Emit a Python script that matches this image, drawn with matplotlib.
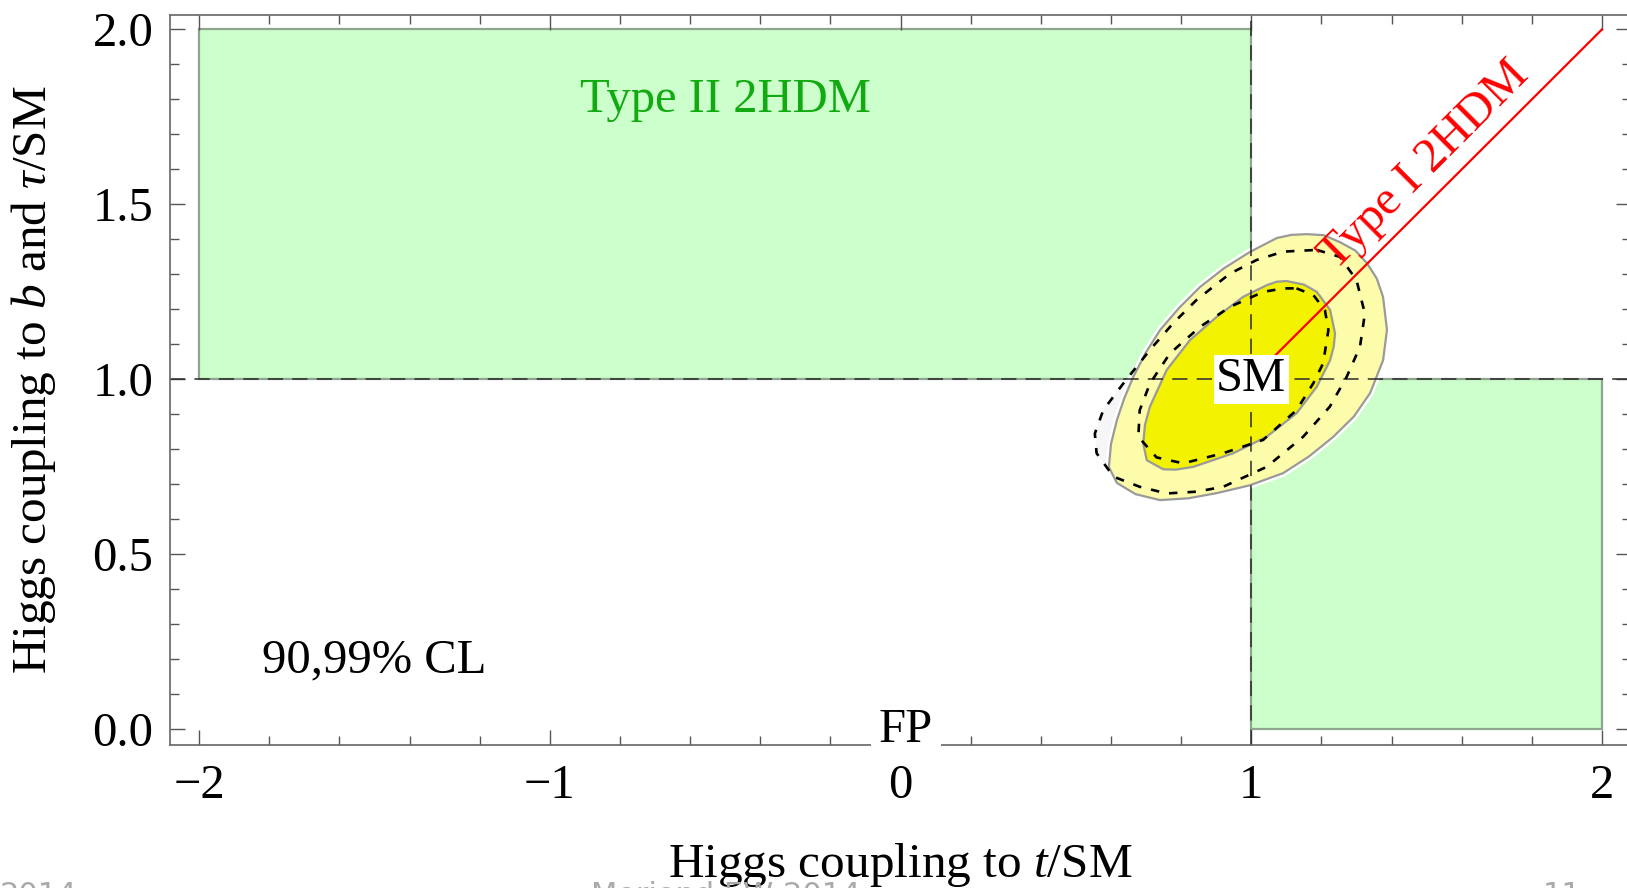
import matplotlib
matplotlib.use("Agg")
import matplotlib.pyplot as plt
from matplotlib.patches import Rectangle
from matplotlib.ticker import MultipleLocator, FormatStrFormatter

# regions allowed by the two 2HDM types
type2_x = [-2, 1]
type2_y = [1, 2]
type2b_x = [1, 2]
type2b_y = [0, 1]
type1_x = [1, 2]
type1_y = [1, 2]

# fit contours (t coupling, b/tau coupling)
c99_x = [1.159, 1.207, 1.253, 1.297, 1.330, 1.358, 1.376, 1.387, 1.376, 1.339,
         1.292, 1.233, 1.165, 1.091, 0.995, 0.902, 0.820, 0.740, 0.670, 0.617,
         0.594, 0.600, 0.617, 0.638, 0.663, 0.699, 0.740, 0.795, 0.854, 0.923,
         0.996, 1.073, 1.115]
c99_y = [1.415, 1.412, 1.392, 1.368, 1.332, 1.288, 1.235, 1.141, 1.055, 0.961,
         0.893, 0.835, 0.780, 0.732, 0.697, 0.675, 0.660, 0.655, 0.672, 0.704,
         0.749, 0.815, 0.884, 0.946, 1.006, 1.076, 1.141, 1.205, 1.264, 1.318,
         1.364, 1.404, 1.413]
c90_x = [1.100, 1.150, 1.187, 1.225, 1.239, 1.235, 1.225, 1.187, 1.129, 1.044,
         0.949, 0.835, 0.785, 0.749, 0.702, 0.692, 0.697, 0.711, 0.759, 0.825,
         0.902, 0.977, 1.044, 1.072]
c90_y = [1.281, 1.271, 1.250, 1.198, 1.131, 1.093, 1.055, 0.979, 0.903, 0.836,
         0.789, 0.750, 0.742, 0.743, 0.769, 0.817, 0.870, 0.922, 1.027, 1.112,
         1.179, 1.236, 1.269, 1.279]
d90_x = [1.129, 1.177, 1.210, 1.220, 1.205, 1.177, 1.129, 1.034, 0.920, 0.806,
         0.730, 0.678, 0.682, 0.711, 0.768, 0.854, 0.939, 1.034, 1.092]
d90_y = [1.260, 1.241, 1.198, 1.141, 1.046, 0.989, 0.912, 0.827, 0.789, 0.760,
         0.777, 0.836, 0.912, 0.988, 1.074, 1.150, 1.207, 1.250, 1.260]
d99_x = [1.187, 1.253, 1.300, 1.324, 1.310, 1.272, 1.224, 1.148, 1.044, 0.920,
         0.844, 0.759, 0.682, 0.607, 0.559, 0.554, 0.578, 0.635, 0.711, 0.777,
         0.844, 0.939, 1.015, 1.091]
d99_y = [1.370, 1.350, 1.284, 1.188, 1.093, 1.007, 0.922, 0.836, 0.750, 0.693,
         0.679, 0.674, 0.693, 0.722, 0.789, 0.845, 0.912, 0.988, 1.084, 1.160,
         1.227, 1.302, 1.341, 1.365]

x_ticks = [-2, -1, 0, 1, 2]
y_ticks = [0.0, 0.5, 1.0, 1.5, 2.0]

plt.rcParams["font.family"] = ["Liberation Serif", "DejaVu Serif"]
plt.rcParams["mathtext.fontset"] = "custom"
plt.rcParams["mathtext.rm"] = "Liberation Serif"
plt.rcParams["mathtext.it"] = "Liberation Serif:italic"

fs = 35
fig = plt.figure(figsize=(16.27, 8.88), dpi=100)
ax = fig.add_axes([0.1045, 0.161, 0.898, 0.822])
ax.set_xlim(-2.083, 2.083)
ax.set_ylim(-0.045, 2.041)

green = "#ccffcc"
green_edge = "#8ea58e"
for xs, ys in [(type2_x, type2_y), (type2b_x, type2b_y)]:
    ax.add_patch(Rectangle((xs[0], ys[0]), xs[1] - xs[0], ys[1] - ys[0],
                           facecolor=green, edgecolor=green_edge, lw=1.6, zorder=1))

# faint shade of the dashed 99% region
ax.fill(d99_x, d99_y, color="#f6f6f8", lw=0, zorder=1.5)

# 99% region: white halo, pale yellow, grey edge
ax.fill(c99_x, c99_y, facecolor="none", edgecolor="white", lw=5, zorder=1.9,
        joinstyle="round")
ax.fill(c99_x, c99_y, facecolor="#fdfcaa", edgecolor="#9a9a9a", lw=1.6, zorder=2,
        joinstyle="round")
ax.fill(c90_x, c90_y, facecolor="#f3f200", edgecolor="#9a9a9a", lw=1.6, zorder=2.1,
        joinstyle="round")

ax.axvline(1, color="#2a2a2a", lw=1.1, ls=(0, (10, 6)), zorder=2.3)
ax.axhline(1, color="#2a2a2a", lw=1.1, ls=(0, (10, 6)), zorder=2.3)

for xs, ys in [(d90_x, d90_y), (d99_x, d99_y)]:
    ax.plot(xs + xs[:1], ys + ys[:1], color="black", lw=1.9, ls=(0, (3.2, 3.8)),
            zorder=2.6)

ax.plot(type1_x, type1_y, color="red", lw=1.6, zorder=2.8)

ax.text(-0.5, 1.797, "Type II 2HDM", color="#11aa11", fontsize=fs,
        ha="center", va="center")
ax.text(1.495, 1.612, "Type I 2HDM", color="red", fontsize=fs, rotation=45,
        rotation_mode="anchor", ha="center", va="center")
ax.text(1.0, 1.0, "SM", fontsize=fs, ha="center", va="center", zorder=5,
        bbox=dict(boxstyle="square,pad=0.05", fc="white", ec="none"))
ax.text(-1.502, 0.196, "90,99% CL", fontsize=fs, ha="center", va="center")
ax.text(0.015, -0.0363, "FP", fontsize=fs, ha="center", va="baseline", zorder=5,
        clip_on=False, bbox=dict(boxstyle="square,pad=0.16", fc="white", ec="none"))

ax.set_xticks(x_ticks)
ax.set_yticks(y_ticks)
ax.xaxis.set_minor_locator(MultipleLocator(0.2))
ax.yaxis.set_minor_locator(MultipleLocator(0.1))
ax.yaxis.set_major_formatter(FormatStrFormatter("%.1f"))
ax.tick_params(which="both", direction="in", top=True, right=True,
               color="#555555", width=1.0, labelsize=fs)
ax.tick_params(which="major", length=10.8)
ax.tick_params(which="minor", length=6.5)
ax.tick_params(axis="x", pad=14)
ax.tick_params(axis="y", pad=12)
for s in ax.spines.values():
    s.set_color("#666666")
    s.set_linewidth(1.2)

ax.set_xlabel("Higgs coupling to $t$/SM", fontsize=fs + 0.5)
ax.set_ylabel(r"Higgs coupling to $b$ and $\tau$/SM", fontsize=fs + 0.5)
ax.xaxis.set_label_coords(0.5, -0.131)
ax.yaxis.set_label_coords(-0.077, 0.5)

# slide footer, cut by the lower edge
foot = dict(color="#aaaaaa", fontsize=22, family="DejaVu Sans", va="top")
fig.text(0.0, 0.008, "2014", ha="left", **foot)
fig.text(0.446, 0.008, "Moriond EW 2014", ha="center", **foot)
fig.text(0.960, 0.008, "11", ha="center", **foot)

fig.savefig("out.png", dpi=100)
